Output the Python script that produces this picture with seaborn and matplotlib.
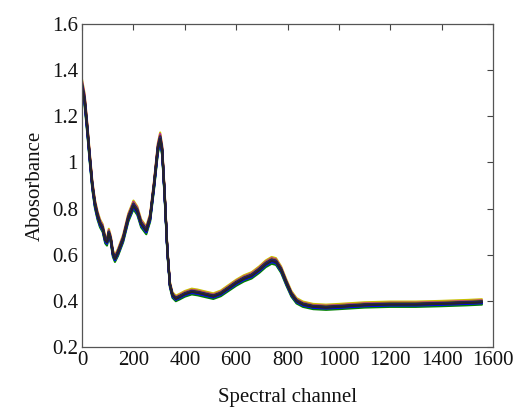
import numpy as np
import pandas as pd
import matplotlib
matplotlib.use("Agg")
import matplotlib.pyplot as plt
import seaborn as sns
from matplotlib.ticker import FuncFormatter

# Base spectrum (channel, absorbance)
channels = [0, 10, 20, 30, 40, 50, 60, 70, 80, 90, 97, 104, 112, 120, 128, 140,
            160, 180, 200, 215, 230, 250, 265, 280, 295, 304, 312, 322, 332, 342,
            352, 365, 380, 400, 427, 450, 480, 511, 540, 570, 600, 630, 660, 690,
            715, 738, 755, 775, 795, 815, 835, 860, 900, 950, 1000, 1100, 1200,
            1300, 1400, 1500, 1557]
base_abs = [1.33, 1.27, 1.15, 1.02, 0.90, 0.82, 0.77, 0.735, 0.715, 0.665, 0.655,
            0.695, 0.665, 0.605, 0.583, 0.61, 0.67, 0.76, 0.815, 0.79, 0.735,
            0.705, 0.76, 0.90, 1.06, 1.105, 1.05, 0.85, 0.62, 0.47, 0.425, 0.41,
            0.418, 0.43, 0.44, 0.436, 0.428, 0.42, 0.432, 0.455, 0.478, 0.497,
            0.51, 0.535, 0.56, 0.575, 0.57, 0.535, 0.48, 0.43, 0.40, 0.385, 0.375,
            0.372, 0.375, 0.382, 0.385, 0.385, 0.388, 0.392, 0.395]

# Per-sample variation (scale, offset) read as bundle spread
sample_scale = [1.018, 0.984, 1.012, 0.988, 1.015, 0.986, 1.008, 0.992, 1.004,
                0.996, 1.010, 0.990, 1.002, 0.998, 1.006, 0.994, 1.000, 1.001,
                0.999, 1.003, 0.997]
sample_offset = [0.005, -0.005, -0.003, 0.003, 0.001, 0.0, 0.002, -0.002, -0.001,
                 0.001, -0.002, 0.002, 0.0, -0.001, 0.001, 0.0, 0.0, -0.001,
                 0.001, 0.0, 0.0]
sample_colors = ["#c8c000", "#008000", "#e00000", "#00b0b0", "#c000c0", "#208020",
                 "#a0a000", "#0000ff", "#303030", "#c000c0", "#404040", "#0000ff",
                 "#202020", "#2020c0", "#303030", "#0000ff", "#202020", "#3020a0",
                 "#202020", "#2a1a8a", "#252525"]

x_ticks = [0, 200, 400, 600, 800, 1000, 1200, 1400, 1600]
y_ticks = [0.2, 0.4, 0.6, 0.8, 1.0, 1.2, 1.4, 1.6]

rows = []
b = np.array(base_abs)
for i, (s, o) in enumerate(zip(sample_scale, sample_offset)):
    vals = b * s + o
    for c, v in zip(channels, vals):
        rows.append({"channel": c, "abs": v, "sample": i})
df = pd.DataFrame(rows)

sns.set_style("white")
plt.rcParams['font.family'] = ['Liberation Serif', 'DejaVu Serif']

fig = plt.figure(figsize=(5.13, 4.11), dpi=100)
ax = fig.add_axes([0.160, 0.1557, 0.801, 0.786])
sns.lineplot(data=df, x="channel", y="abs", hue="sample", palette=sample_colors,
             legend=False, ax=ax, linewidth=1.5, estimator=None, sort=False)

ax.set_xlim(0, 1600)
ax.set_ylim(0.2, 1.6)
ax.set_xticks(x_ticks)
ax.set_yticks(y_ticks)
ax.xaxis.set_major_formatter(FuncFormatter(lambda v, p: f"{v:g}"))
ax.yaxis.set_major_formatter(FuncFormatter(lambda v, p: f"{v:g}"))
ax.tick_params(direction="in", length=4, width=0.8, labelsize=15,
               top=True, right=True, color="#444444", pad=3, labelcolor="#111111")
for sp in ax.spines.values():
    sp.set_visible(True)
    sp.set_color("#555555")
    sp.set_linewidth(0.9)
ax.set_xlabel("Spectral channel", fontsize=15, labelpad=13, color="#111111")
ax.set_ylabel("Abosorbance", fontsize=15, labelpad=5, color="#111111")

fig.savefig("out.png", dpi=100)
